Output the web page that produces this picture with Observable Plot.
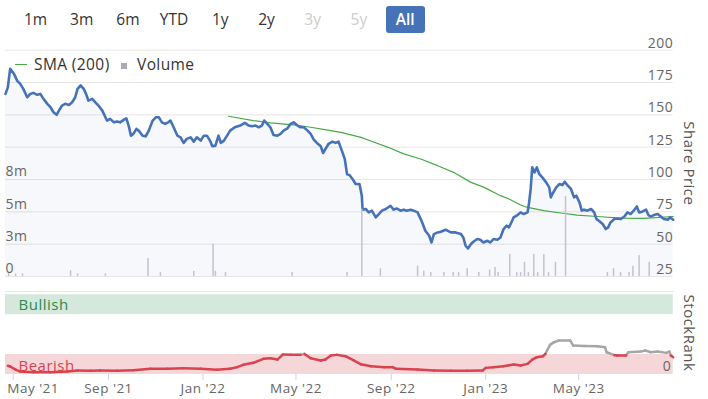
<!DOCTYPE html>
<html><head><meta charset="utf-8">
<script src="https://cdn.jsdelivr.net/npm/d3@7"></script>
<script src="https://cdn.jsdelivr.net/npm/@observablehq/plot@0.6"></script>
<style>
body{margin:0;background:#fff;font-family:"Open Sans",sans-serif;}
#wrap{position:relative;width:708px;height:399px;overflow:hidden;background:#fff;}
#wrap svg{position:absolute;left:0;overflow:visible;}
.btn{position:absolute;top:6px;height:27px;line-height:27px;font-size:15.5px;color:#333;text-align:center;}
.btn.off{color:#cccccc;}
.btn.sel{background:#4673b8;color:#fff;font-weight:600;border-radius:3px;}
.leg{position:absolute;top:55px;height:19px;line-height:19px;font-size:15.5px;letter-spacing:0.4px;color:#333;}
</style></head><body><div id="wrap"></div>
<script>
const rangeButtons = ["1m","3m","6m","YTD","1y","2y","3y","5y","All"];
const disabledButtons = ["3y","5y"];
const selectedButton = "All";

const priceTicks = [25,50,75,100,125,150,175,200];
const volumeTicks = [0,2.5,5,7.5];
const volumeTickLabels = ["0","3m","5m","8m"];
const monthTicks = ["2021-05-01","2021-09-01","2022-01-01","2022-05-01","2022-09-01","2023-01-01","2023-05-01"];
const rankTicks = [0];
const bullishBand = [75,100];
const bearishBand = [0,25];

const priceData = [
["2021-04-21",166.2],["2021-04-24",171.3],["2021-04-27",185.6],["2021-05-02",181.7],["2021-05-06",176.5],["2021-05-10",174],["2021-05-14",170.1],["2021-05-19",163.6],["2021-05-23",166.2],["2021-05-27",167],
["2021-06-01",165.5],["2021-06-05",166.2],["2021-06-09",162.4],["2021-06-14",158.5],["2021-06-18",155.9],["2021-06-22",152],["2021-06-26",150],["2021-06-29",153.3],["2021-07-03",157.2],["2021-07-07",158.5],
["2021-07-12",157.7],["2021-07-16",159.7],["2021-07-20",163.6],["2021-07-23",170.1],["2021-07-27",172.7],["2021-07-31",170.1],["2021-08-03",166.2],["2021-08-06",161],["2021-08-11",162.4],["2021-08-15",159.7],
["2021-08-19",157.2],["2021-08-24",153.3],["2021-08-28",148.1],["2021-08-30",145.6],["2021-09-03",146.9],["2021-09-08",144.2],["2021-09-12",144.8],["2021-09-16",144.2],["2021-09-21",146.3],["2021-09-24",147.3],
["2021-09-27",141.7],["2021-09-30",133.9],["2021-10-03",135.3],["2021-10-07",139.1],["2021-10-10",137.8],["2021-10-15",133.9],["2021-10-19",133.4],["2021-10-23",137.8],["2021-10-28",145.6],["2021-11-01",148.1],
["2021-11-05",148.1],["2021-11-09",144.2],["2021-11-13",143],["2021-11-17",144.2],["2021-11-20",145.6],["2021-11-24",140.4],["2021-11-29",133.9],["2021-12-03",132.6],["2021-12-07",128.3],["2021-12-11",131.4],
["2021-12-16",132.6],["2021-12-20",129.3],["2021-12-24",132.6],["2021-12-29",130.1],["2022-01-02",133.9],["2022-01-06",133.9],["2022-01-10",130.1],["2022-01-13",125.7],["2022-01-17",126.2],["2022-01-21",133.9],
["2022-01-24",128.3],["2022-01-28",130.1],["2022-02-01",133.9],["2022-02-05",137.8],["2022-02-11",140.4],["2022-02-18",141.7],["2022-02-24",143.8],["2022-03-01",141.7],["2022-03-05",141.2],["2022-03-10",141.7],
["2022-03-14",140.4],["2022-03-18",141.7],["2022-03-21",145.6],["2022-03-25",143],["2022-03-29",140.4],["2022-04-02",134.5],["2022-04-07",133.9],["2022-04-11",135.3],["2022-04-15",137.8],["2022-04-20",139.6],
["2022-04-24",143],["2022-04-28",144.2],["2022-05-03",141.7],["2022-05-07",140.4],["2022-05-11",140.4],["2022-05-16",137.8],["2022-05-20",135.3],["2022-05-24",130.9],["2022-05-28",128.3],["2022-06-02",125.7],
["2022-06-05",120.5],["2022-06-08",123.6],["2022-06-12",127.5],["2022-06-17",129.3],["2022-06-21",128.3],["2022-06-25",129.3],["2022-06-30",121],["2022-07-03",115.9],["2022-07-06",104],["2022-07-09",103.5],
["2022-07-13",100.4],["2022-07-17",96.5],["2022-07-22",96.5],["2022-07-25",87.5],["2022-07-26",76.7],["2022-07-30",77.2],["2022-08-03",74.6],["2022-08-07",75.9],["2022-08-12",70.7],["2022-08-16",73.3],
["2022-08-20",75.9],["2022-08-25",77.2],["2022-08-31",79.7],["2022-09-04",76.7],["2022-09-08",77.6],["2022-09-13",75.9],["2022-09-17",76.7],["2022-09-21",75.9],["2022-09-26",76.7],["2022-09-30",75.9],
["2022-10-05",74.6],["2022-10-08",70.7],["2022-10-11",66.8],["2022-10-15",60.4],["2022-10-20",56.5],["2022-10-23",51.3],["2022-10-26",57.8],["2022-10-31",59.1],["2022-11-04",59.6],["2022-11-10",61.2],
["2022-11-17",59.1],["2022-11-23",59.1],["2022-11-30",57.8],["2022-12-03",55.2],["2022-12-06",48.8],["2022-12-09",46.7],["2022-12-13",50.1],["2022-12-16",51.9],["2022-12-21",54],["2022-12-25",53.4],
["2022-12-29",51.3],["2023-01-03",52.6],["2023-01-07",51.3],["2023-01-11",54],["2023-01-16",53.4],["2023-01-20",55.2],["2023-01-24",61.7],["2023-01-28",64.3],["2023-01-31",63],["2023-02-03",66.8],
["2023-02-06",70.7],["2023-02-11",72.5],["2023-02-15",74.6],["2023-02-19",73.3],["2023-02-24",74.6],["2023-02-26",82.3],["2023-02-28",92.7],["2023-03-02",109.4],["2023-03-05",105.5],["2023-03-08",109.4],
["2023-03-11",104.3],["2023-03-15",101.7],["2023-03-20",97.8],["2023-03-24",93.9],["2023-03-26",86.2],["2023-03-28",88.8],["2023-04-02",93.9],["2023-04-06",96.5],["2023-04-10",95.7],["2023-04-13",98.3],
["2023-04-17",95.2],["2023-04-21",92.7],["2023-04-25",86.2],["2023-04-28",87.5],["2023-05-02",82.3],["2023-05-05",75.9],["2023-05-08",76.7],["2023-05-12",75.9],["2023-05-17",77.2],["2023-05-21",74.6],
["2023-05-24",69.4],["2023-05-27",68.1],["2023-06-01",65.6],["2023-06-05",61.7],["2023-06-08",63],["2023-06-11",66.8],["2023-06-16",69.4],["2023-06-20",69.9],["2023-06-24",69.4],["2023-06-29",71.4],
["2023-07-03",74.6],["2023-07-07",73.3],["2023-07-11",75.9],["2023-07-15",79.2],["2023-07-18",74.6],["2023-07-22",75.1],["2023-07-27",76.7],["2023-07-30",72.5],["2023-08-02",71.4],["2023-08-06",72.5],
["2023-08-11",73.3],["2023-08-15",71.4],["2023-08-19",69.4],["2023-08-24",68.9],["2023-08-27",70.7],["2023-08-31",68.9]
];

const smaData = [
["2022-02-03",148.9],["2022-03-07",145.6],["2022-03-29",143.8],["2022-04-28",142.2],["2022-05-20",140.4],["2022-06-15",137.8],["2022-06-28",136.5],["2022-07-11",134.5],["2022-07-24",132.6],["2022-08-10",128.8],
["2022-08-28",124.9],["2022-09-17",119.8],["2022-10-09",115.9],["2022-10-31",110.7],["2022-11-22",105.1],["2022-12-13",97.8],["2022-12-30",93.9],["2023-01-20",87.5],["2023-02-02",84.4],["2023-02-15",80.3],
["2023-02-24",78.4],["2023-03-17",75.9],["2023-04-08",74.1],["2023-04-29",72.5],["2023-05-25",71.4],["2023-06-24",70.2],["2023-07-24",69.9],["2023-08-31",71.4]
];

// volume in millions
const volumeData = [
["2021-04-25",0.3],["2021-05-04",0.2],["2021-05-13",0.2],["2021-07-14",0.45],["2021-07-23",0.2],["2021-08-28",0.2],["2021-10-22",1.4],["2021-11-07",0.3],["2021-12-20",0.4],["2022-01-14",2.5],
["2022-01-17",0.4],["2022-01-30",0.3],["2022-04-26",0.3],["2022-07-06",0.3],["2022-07-25",5.2],["2022-08-18",0.6],["2022-10-05",0.8],["2022-10-13",0.4],["2022-10-22",0.3],["2022-11-08",0.3],
["2022-11-20",0.3],["2022-11-27",0.3],["2022-12-08",0.6],["2022-12-23",0.3],["2023-01-06",0.5],["2023-01-13",0.7],["2023-01-17",0.3],["2023-02-01",1.7],["2023-02-10",0.3],["2023-02-15",0.3],
["2023-02-20",1.1],["2023-02-25",0.3],["2023-03-04",1.7],["2023-03-09",0.3],["2023-03-17",1.7],["2023-03-23",0.3],["2023-04-01",1.1],["2023-04-14",6.2],["2023-06-07",0.3],["2023-06-15",0.6],
["2023-06-24",0.3],["2023-07-05",0.3],["2023-07-10",0.8],["2023-07-18",1.6],["2023-07-31",1.1]
];

const rankData = [
["2021-04-24",11],["2021-04-27",10],["2021-05-04",6.2],["2021-05-10",3.7],["2021-05-27",2.9],["2021-06-18",2.9],["2021-07-10",3.7],["2021-07-23",5],["2021-08-09",4.6],["2021-08-21",5],
["2021-09-12",4.6],["2021-10-03",5.4],["2021-10-25",7.1],["2021-11-16",7.1],["2021-12-07",7.9],["2021-12-29",7.1],["2022-01-19",5.9],["2022-02-05",7.1],["2022-02-14",9.2],["2022-02-22",12.1],
["2022-03-07",14.6],["2022-03-20",19.6],["2022-03-29",20.4],["2022-04-07",18.7],["2022-04-14",25],["2022-04-24",24.6],["2022-05-07",24.6],["2022-05-12",25.8],["2022-05-20",20.4],["2022-06-02",17.5],
["2022-06-08",18.7],["2022-06-15",23.7],["2022-06-23",24.6],["2022-07-04",22.9],["2022-07-15",17.5],["2022-07-24",12.8],["2022-08-06",10.4],["2022-08-23",9.2],["2022-09-03",9.2],["2022-09-07",7.1],
["2022-10-05",6.2],["2022-10-26",5],["2022-11-17",4.6],["2022-12-08",4.6],["2022-12-28",5],["2023-01-01",8.3],["2023-01-11",9.2],["2023-01-24",10.4],["2023-02-06",12.5],["2023-02-15",11.2],
["2023-02-24",13.3],["2023-03-02",18.7],["2023-03-08",21.7],["2023-03-16",22.9],["2023-03-19",25.8],["2023-03-25",37.1],["2023-03-30",40.4],["2023-04-05",42.5],["2023-04-20",42.5],["2023-04-24",36.2],
["2023-05-08",35.8],["2023-05-25",35.4],["2023-06-04",34.2],["2023-06-06",27.9],["2023-06-16",24.2],["2023-06-20",23.7],["2023-07-01",23.7],["2023-07-04",27.9],["2023-07-20",28.7],["2023-07-26",30],
["2023-08-02",27.9],["2023-08-11",28.7],["2023-08-22",27.1],["2023-08-26",28.7],["2023-08-28",23.7],["2023-08-31",21.7]
];

const parse = d3.utcParse("%Y-%m-%d");
const toRows = arr => arr.map(([d, v]) => ({date: parse(d), value: v}));
const price = toRows(priceData), sma = toRows(smaData), volume = toRows(volumeData), rank = toRows(rankData);
const months = monthTicks.map(parse);
const xDomain = [parse("2021-04-21"), parse("2023-08-31")];
const fmtMonth = d3.utcFormat("%b '%y");

const rankSegs = d3.pairs(rank).map(([a, b]) => ({x1: a.date, y1: a.value, x2: b.date, y2: b.value, neutral: (a.value + b.value) / 2 > 25}));

const wrap = document.getElementById("wrap");
const font = "'Open Sans', sans-serif";
const common = {width: 708, marginLeft: 5, marginRight: 35.3};
const baseStyle = {fontFamily: font, fontSize: "13.5px", background: "transparent", overflow: "visible", color: "#666", letterSpacing: "0.5px"};

// range buttons
rangeButtons.forEach((b, i) => {
  const el = document.createElement("div");
  el.className = "btn" + (disabledButtons.includes(b) ? " off" : "") + (b === selectedButton ? " sel" : "");
  el.textContent = b;
  const cx = 35.5 + i * 46.2, w = 39;
  el.style.left = (cx - w / 2) + "px";
  el.style.width = w + "px";
  wrap.appendChild(el);
});

const pricePlot = Plot.plot({
  ...common, height: 240, marginTop: 9.7, marginBottom: 4,
  x: {type: "utc", domain: xDomain, axis: null},
  y: {domain: [25, 200], axis: null},
  style: baseStyle,
  marks: [
    Plot.ruleY(priceTicks, {y: d => d, stroke: "#e6e6e6", strokeWidth: 1}),
    Plot.areaY(price, {x: "date", y: "value", fill: "#4673b8", fillOpacity: 0.05, clip: true}),
    Plot.line(sma, {x: "date", y: "value", stroke: "#47a847", strokeWidth: 1.2}),
    Plot.line(price, {x: "date", y: "value", stroke: "#4673b8", strokeWidth: 2.6, strokeLinejoin: "round"}),
    Plot.text(priceTicks, {y: d => d, text: d => String(d), frameAnchor: "right", textAnchor: "end", dy: -7, fill: "#666", fontSize: 14}),
    Plot.text(["Share Price"], {text: d => d, frameAnchor: "right", textAnchor: "middle", rotate: 90, dx: 15.5, fill: "#555", fontSize: 15})
  ]
});
pricePlot.style.top = "40px";
wrap.appendChild(pricePlot);

const volPlot = Plot.plot({
  ...common, height: 240, marginTop: 9.7, marginBottom: 4,
  x: {type: "utc", domain: xDomain, axis: null},
  y: {domain: [0, 17.5], axis: null},
  style: baseStyle,
  marks: [
    Plot.ruleX(volume, {x: "date", y1: () => 0, y2: "value", stroke: "#c2c3cb", strokeWidth: 1.5}),
    Plot.text(volumeTicks, {y: d => d, text: (d, i) => volumeTickLabels[i], frameAnchor: "left", textAnchor: "start", dy: -7.5, fill: "#666", fontSize: 14})
  ]
});
volPlot.style.top = "40px";
wrap.appendChild(volPlot);

const rankPlot = Plot.plot({
  ...common, height: 114, marginTop: 6, marginBottom: 25,
  x: {type: "utc", domain: xDomain, axis: null},
  y: {domain: [0, 104], axis: null},
  style: baseStyle,
  marks: [
    Plot.frame({anchor: "top", stroke: "#e6e6e6"}),
    Plot.rect([bullishBand], {x1: () => xDomain[0], x2: () => xDomain[1], y1: d => d[0], y2: d => d[1], fill: "#d4e8dc"}),
    Plot.rect([bearishBand], {x1: () => xDomain[0], x2: () => xDomain[1], y1: d => d[0], y2: d => d[1], fill: "#f5d6d9"}),
    Plot.text(["Bullish"], {text: d => d, y: () => 87.5, frameAnchor: "left", dx: 13, dy: 1, textAnchor: "start", fill: "#2a8a50", fontSize: 15}),
    Plot.text(["Bearish"], {text: d => d, y: () => 12.5, frameAnchor: "left", dx: 13, dy: 1.5, textAnchor: "start", fill: "#d9434e", fontSize: 15}),
    Plot.link(rankSegs.filter(d => d.neutral), {x1: "x1", y1: "y1", x2: "x2", y2: "y2", stroke: "#a6a6a6", strokeWidth: 2.5, strokeLinecap: "round"}),
    Plot.link(rankSegs.filter(d => !d.neutral), {x1: "x1", y1: "y1", x2: "x2", y2: "y2", stroke: "#d9434e", strokeWidth: 2.5, strokeLinecap: "round"}),
    Plot.text(rankTicks, {y: d => d, text: d => String(d), frameAnchor: "right", textAnchor: "end", dx: -2, dy: -8, fill: "#666", fontSize: 14}),
    Plot.text(["StockRank"], {text: d => d, frameAnchor: "right", textAnchor: "middle", rotate: 90, dx: 15.5, fill: "#555", fontSize: 15}),
    Plot.axisX(months, {anchor: "bottom", tickSize: 6, tickPadding: 3, stroke: "#ccd6eb", fill: "#666", fontSize: 13.5,
      tickFormat: d => (+d === +months[0] ? "" : fmtMonth(d))}),
    Plot.text([months[0]], {x: d => d, text: d => fmtMonth(d), frameAnchor: "bottom", textAnchor: "start", lineAnchor: "top", dx: -6, dy: 9, fill: "#666", fontSize: 13.5})
  ]
});
rankPlot.style.top = "285px";
wrap.appendChild(rankPlot);

// legend
const legLine = document.createElement("div");
Object.assign(legLine.style, {position: "absolute", left: "15px", top: "63.5px", width: "12px", height: "1.5px", background: "#47a847"});
wrap.appendChild(legLine);
const leg1 = document.createElement("div"); leg1.className = "leg"; leg1.style.left = "34px"; leg1.textContent = "SMA (200)"; wrap.appendChild(leg1);
const legSq = document.createElement("div");
Object.assign(legSq.style, {position: "absolute", left: "120.7px", top: "63px", width: "6px", height: "6px", background: "#a9aab2"});
wrap.appendChild(legSq);
const leg2 = document.createElement("div"); leg2.className = "leg"; leg2.style.left = "137px"; leg2.textContent = "Volume"; wrap.appendChild(leg2);
</script>
</body></html>
